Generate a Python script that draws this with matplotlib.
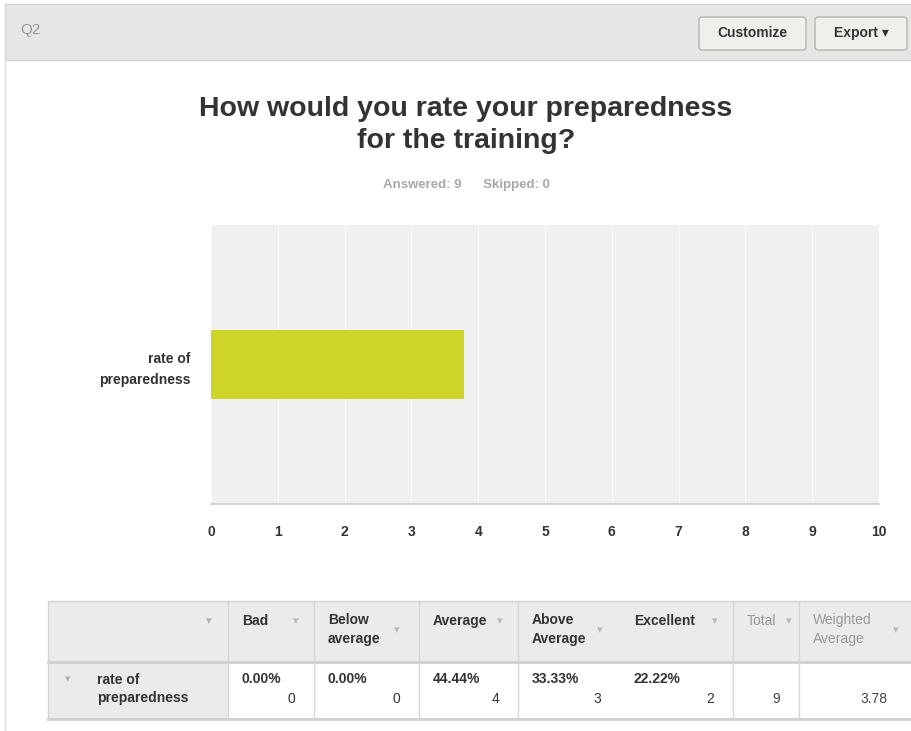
import matplotlib.pyplot as plt
from matplotlib.patches import Rectangle, FancyBboxPatch

plt.rcParams['font.family'] = ['Liberation Sans', 'DejaVu Sans']

# data
question = "How would you rate your preparedness\nfor the training?"
answered = 9
skipped = 0
row_label = "rate of\npreparedness"
weighted_avg = 3.78
xticks = list(range(0, 11))
choices = ["Bad", "Below\naverage", "Average", "Above\nAverage", "Excellent"]
pcts = ["0.00%", "0.00%", "44.44%", "33.33%", "22.22%"]
counts = [0, 0, 4, 3, 2]
total = 9

W, H = 912, 731
fig = plt.figure(figsize=(W / 100, H / 100), dpi=100)

# background canvas in pixel coords
bg = fig.add_axes([0, 0, 1, 1])
bg.set_xlim(0, W)
bg.set_ylim(H, 0)
bg.axis('off')

# header bar
bg.add_patch(Rectangle((5, 4), W - 5, 56, facecolor='#e6e6e4', edgecolor='#d4d4d2', lw=1))
bg.plot([5.5, 5.5], [60, H], color='#dcdcdc', lw=1)
bg.text(20, 30, "Q2", fontsize=11, color='#9a9a9a', va='center')
for x0, w, lab in [(699, 107, "Customize"), (815, 92, "Export \u25be")]:
    bg.add_patch(FancyBboxPatch((x0, 17), w, 33, boxstyle="round,pad=0,rounding_size=3",
                                facecolor='#efefeb', edgecolor='#b5b5b0', lw=1))
    bg.text(x0 + w / 2, 33, lab, fontsize=10, fontweight='bold', color='#333333',
            ha='center', va='center')

# titles
bg.text(466, 125, question, fontsize=20.5, fontweight='bold', color='#333333',
        ha='center', va='center', linespacing=1.32)
bg.text(466, 185, f"Answered: {answered}      Skipped: {skipped}", fontsize=9.5,
        fontweight='bold', color='#a8a8a8', ha='center', va='center')

# bar chart
ax = fig.add_axes([211 / W, 1 - 504 / H, 668 / W, 279 / H])
ax.set_facecolor('#f0f0f0')
ax.barh([0], [weighted_avg], height=0.248, color='#cfd428', zorder=3)
ax.set_xlim(0, 10)
ax.set_ylim(-0.5, 0.5)
ax.set_xticks(xticks)
ax.set_xticklabels([str(t) for t in xticks], fontsize=10, fontweight='bold', color='#333333')
ax.set_yticks([0])
ax.set_yticklabels([row_label], fontsize=10, fontweight='bold', color='#333333',
                   ha='right', linespacing=1.6)
ax.tick_params(axis='x', length=0, pad=15)
ax.tick_params(axis='y', length=0, pad=15)
ax.grid(axis='x', color='#fafafa', lw=1, zorder=1)
for s in ['top', 'right', 'left']:
    ax.spines[s].set_visible(False)
ax.spines['bottom'].set_color('#d4d4d4')
ax.spines['bottom'].set_linewidth(1.5)

# table
line_c = '#d6d6d6'
col_x = [48, 228, 314, 419, 518, 620, 733, 799, 912]
top, mid, bot = 601, 662, 719
bg.add_patch(Rectangle((col_x[0], top), col_x[-1] - col_x[0], mid - top,
                       facecolor='#ebebeb', edgecolor='none'))
bg.add_patch(Rectangle((col_x[0], mid), col_x[1] - col_x[0], bot - mid,
                       facecolor='#ebebeb', edgecolor='none'))
bg.plot([col_x[0], col_x[-1]], [top, top], color=line_c, lw=1)
bg.plot([col_x[0], col_x[-1]], [mid, mid], color='#cfcfcf', lw=2)
bg.plot([col_x[0], col_x[-1]], [bot, bot], color='#cfcfcf', lw=2)
for i, x in enumerate(col_x[:-1]):
    if i == 5:
        continue
    bg.plot([x, x], [top, bot], color=line_c, lw=1)

tri = '\u25be'
bg.text(209, 621, tri, fontsize=8, color='#b0b0b0', ha='center', va='center')
header_labels = choices + ["Total", "Weighted\nAverage"]
for i, lab in enumerate(header_labels):
    x0 = col_x[i + 1]
    grey = i >= 5
    two = '\n' in lab
    bg.text(x0 + 14, 613 if two else 621, lab, fontsize=10,
            fontweight='normal' if grey else 'bold',
            color='#999999' if grey else '#333333', ha='left',
            va='top' if two else 'center', linespacing=1.45)
tri_pos = [(296, 621), (397, 630), (500, 621), (600, 630), (715, 621), (789, 621), (896, 630)]
for tx, ty in tri_pos:
    bg.text(tx, ty, tri, fontsize=8, color='#b8b8b8', ha='center', va='center')

# data row
bg.text(68, 679, tri, fontsize=8, color='#b0b0b0', ha='center', va='center')
bg.text(97, 689, row_label, fontsize=10, fontweight='bold', color='#333333',
        ha='left', va='center', linespacing=1.45)
for i in range(5):
    x0, x1 = col_x[i + 1], col_x[i + 2]
    bg.text(x0 + 14, 679, pcts[i], fontsize=10, fontweight='bold', color='#333333',
            ha='left', va='center')
    bg.text(x1 - 19, 699, str(counts[i]), fontsize=10, color='#333333',
            ha='right', va='center')
bg.text(col_x[7] - 19, 699, str(total), fontsize=10, color='#444444', ha='right', va='center')
bg.text(col_x[8] - 25, 699, f"{weighted_avg:.2f}", fontsize=10, color='#444444',
        ha='right', va='center')

fig.savefig("out.png", dpi=100)
